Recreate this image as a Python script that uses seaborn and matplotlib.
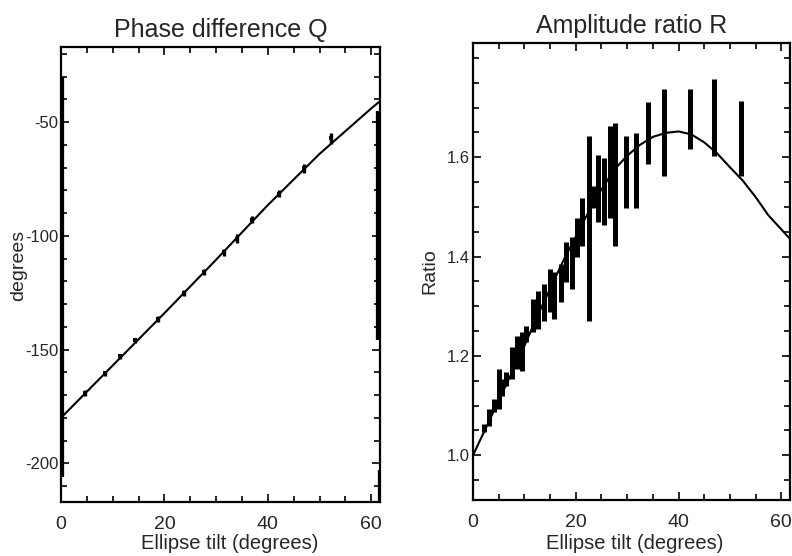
import matplotlib
matplotlib.use("Agg")
import matplotlib.pyplot as plt
import seaborn as sns
import numpy as np
import pandas as pd
from matplotlib.ticker import MultipleLocator, FixedLocator, FormatStrFormatter

# ---------------- data: left panel (phase difference Q) ----------------
q_line_tilt = [0, 10, 20, 30, 40, 50, 60, 61.6]
q_line_val = [-180, -157, -134, -110.5, -86.5, -64, -44, -41]

q_tilt = [4.6, 8.5, 11.4, 14.3, 18.8, 23.7, 27.6, 31.5, 34.0, 37.0, 42.1, 47.0, 52.2]
q_val = [-169, -160.4, -153, -146, -136.5, -125.3, -116, -107.3, -101.2, -93, -81.4, -70.4, -57.2]
q_err = [1.2, 1.2, 1.2, 1.2, 1.3, 1.3, 1.3, 1.4, 1.8, 1.5, 1.5, 1.8, 2.5]

# wrapped / edge points (large error bars along the frame)
q_edge_tilt = [0.0, 61.6, 61.8]
q_edge_val = [-118, -95.5, -210]
q_edge_err = [88, 50.5, 7]

# ---------------- data: right panel (amplitude ratio R) ----------------
r_line_tilt = [0, 2.5, 5, 7.5, 10, 12.5, 15, 17.5, 20, 22.5, 25, 27.5, 30,
               32.5, 35, 37.5, 40, 42.5, 45, 47.5, 50, 52.5, 55, 57.5, 60, 62]
r_line_val = [1.000, 1.055, 1.110, 1.165, 1.220, 1.280, 1.335, 1.390, 1.440,
              1.490, 1.535, 1.575, 1.603, 1.625, 1.641, 1.649, 1.652, 1.646,
              1.630, 1.608, 1.580, 1.553, 1.520, 1.483, 1.455, 1.432]

r_tilt = [2.1, 3.1, 4.1, 5.1, 5.7, 6.4, 7.5, 8.6, 9.6, 10.3, 11.6, 12.7, 13.8,
          15.0, 15.8, 17.1, 18.1, 19.2, 20.3, 21.3, 22.5, 23.3, 24.4, 25.5,
          26.6, 27.7, 29.8, 31.8, 34.0, 37.1, 42.2, 47.0, 52.2]
r_low = [1.046, 1.059, 1.087, 1.093, 1.120, 1.140, 1.153, 1.174, 1.170, 1.228,
         1.248, 1.255, 1.270, 1.289, 1.275, 1.309, 1.349, 1.335, 1.400, 1.422,
         1.270, 1.497, 1.470, 1.463, 1.477, 1.422, 1.497, 1.497, 1.587, 1.563,
         1.617, 1.603, 1.563]
r_high = [1.063, 1.093, 1.113, 1.174, 1.153, 1.168, 1.218, 1.240, 1.248, 1.260,
          1.315, 1.330, 1.345, 1.376, 1.370, 1.386, 1.430, 1.440, 1.477, 1.517,
          1.642, 1.543, 1.604, 1.598, 1.663, 1.669, 1.642, 1.648, 1.711, 1.738,
          1.738, 1.758, 1.714]

# ---------------- styling ----------------
sns.set_theme(style="ticks")
plt.rcParams["font.family"] = ["Liberation Sans", "DejaVu Sans"]
plt.rcParams["axes.unicode_minus"] = False

fig = plt.figure(figsize=(7.92, 5.56), dpi=100)
axL = fig.add_axes([61 / 792, 1 - 502 / 556, (380 - 61) / 792, (502 - 47) / 556])
axR = fig.add_axes([473 / 792, 1 - 500 / 556, (790 - 473) / 792, (500 - 43) / 556])

# ---- left panel ----
sns.lineplot(x=q_line_tilt, y=q_line_val, ax=axL, color="black", lw=1.5,
             estimator=None, sort=False)
axL.errorbar(q_tilt, q_val, yerr=q_err, fmt="none", ecolor="black", elinewidth=2.4)
sns.scatterplot(x=q_tilt, y=q_val, ax=axL, color="black", marker="s", s=12,
                edgecolor="black", linewidth=0)
axL.errorbar(q_edge_tilt, q_edge_val, yerr=q_edge_err, fmt="none", ecolor="black",
             elinewidth=4.5, clip_on=True)

axL.set_xlim(0, 61.7)
axL.set_ylim(-217, -17)
axL.xaxis.set_major_locator(FixedLocator([0, 20, 40, 60]))
axL.xaxis.set_minor_locator(MultipleLocator(5))
axL.yaxis.set_major_locator(FixedLocator([-200, -150, -100, -50]))
axL.yaxis.set_minor_locator(MultipleLocator(10))
axL.set_title("Phase difference Q", fontsize=18, pad=7)
axL.set_xlabel("Ellipse tilt (degrees)", fontsize=14.5)
axL.set_ylabel("degrees", fontsize=14)
axL.yaxis.set_label_coords(-0.105, 0.52)
axL.xaxis.set_label_coords(0.53, -0.07)

# ---- right panel ----
r_center = [(a + b) / 2 for a, b in zip(r_low, r_high)]
r_err = [(b - a) / 2 for a, b in zip(r_low, r_high)]
sns.lineplot(x=r_line_tilt, y=r_line_val, ax=axR, color="black", lw=1.5,
             estimator=None, sort=False)
axR.errorbar(r_tilt, r_center, yerr=r_err, fmt="none", ecolor="black", elinewidth=3.6)

axR.set_xlim(0, 61.7)
axR.set_ylim(0.91, 1.83)
axR.xaxis.set_major_locator(FixedLocator([0, 20, 40, 60]))
axR.xaxis.set_minor_locator(MultipleLocator(5))
axR.yaxis.set_major_locator(FixedLocator([1.0, 1.2, 1.4, 1.6]))
axR.yaxis.set_minor_locator(MultipleLocator(0.05))
axR.yaxis.set_major_formatter(FormatStrFormatter("%.1f"))
axR.set_title("Amplitude ratio R", fontsize=18, pad=7)
axR.set_xlabel("Ellipse tilt (degrees)", fontsize=14.5)
axR.set_ylabel("Ratio", fontsize=14)
axR.yaxis.set_label_coords(-0.11, 0.50)
axR.xaxis.set_label_coords(0.51, -0.074)

for ax in (axL, axR):
    for sp in ax.spines.values():
        sp.set_visible(True)
        sp.set_linewidth(1.6)
        sp.set_color("black")
    ax.tick_params(which="both", direction="in", top=True, right=True,
                   color="black", width=1.2)
    ax.tick_params(which="major", length=6)
    ax.tick_params(which="minor", length=4)
    ax.tick_params(axis="x", which="major", labelsize=14, pad=10)
    ax.tick_params(axis="y", which="major", labelsize=12, pad=2)
    ax.set_facecolor("white")

fig.savefig("out.png", dpi=100, facecolor="white")
